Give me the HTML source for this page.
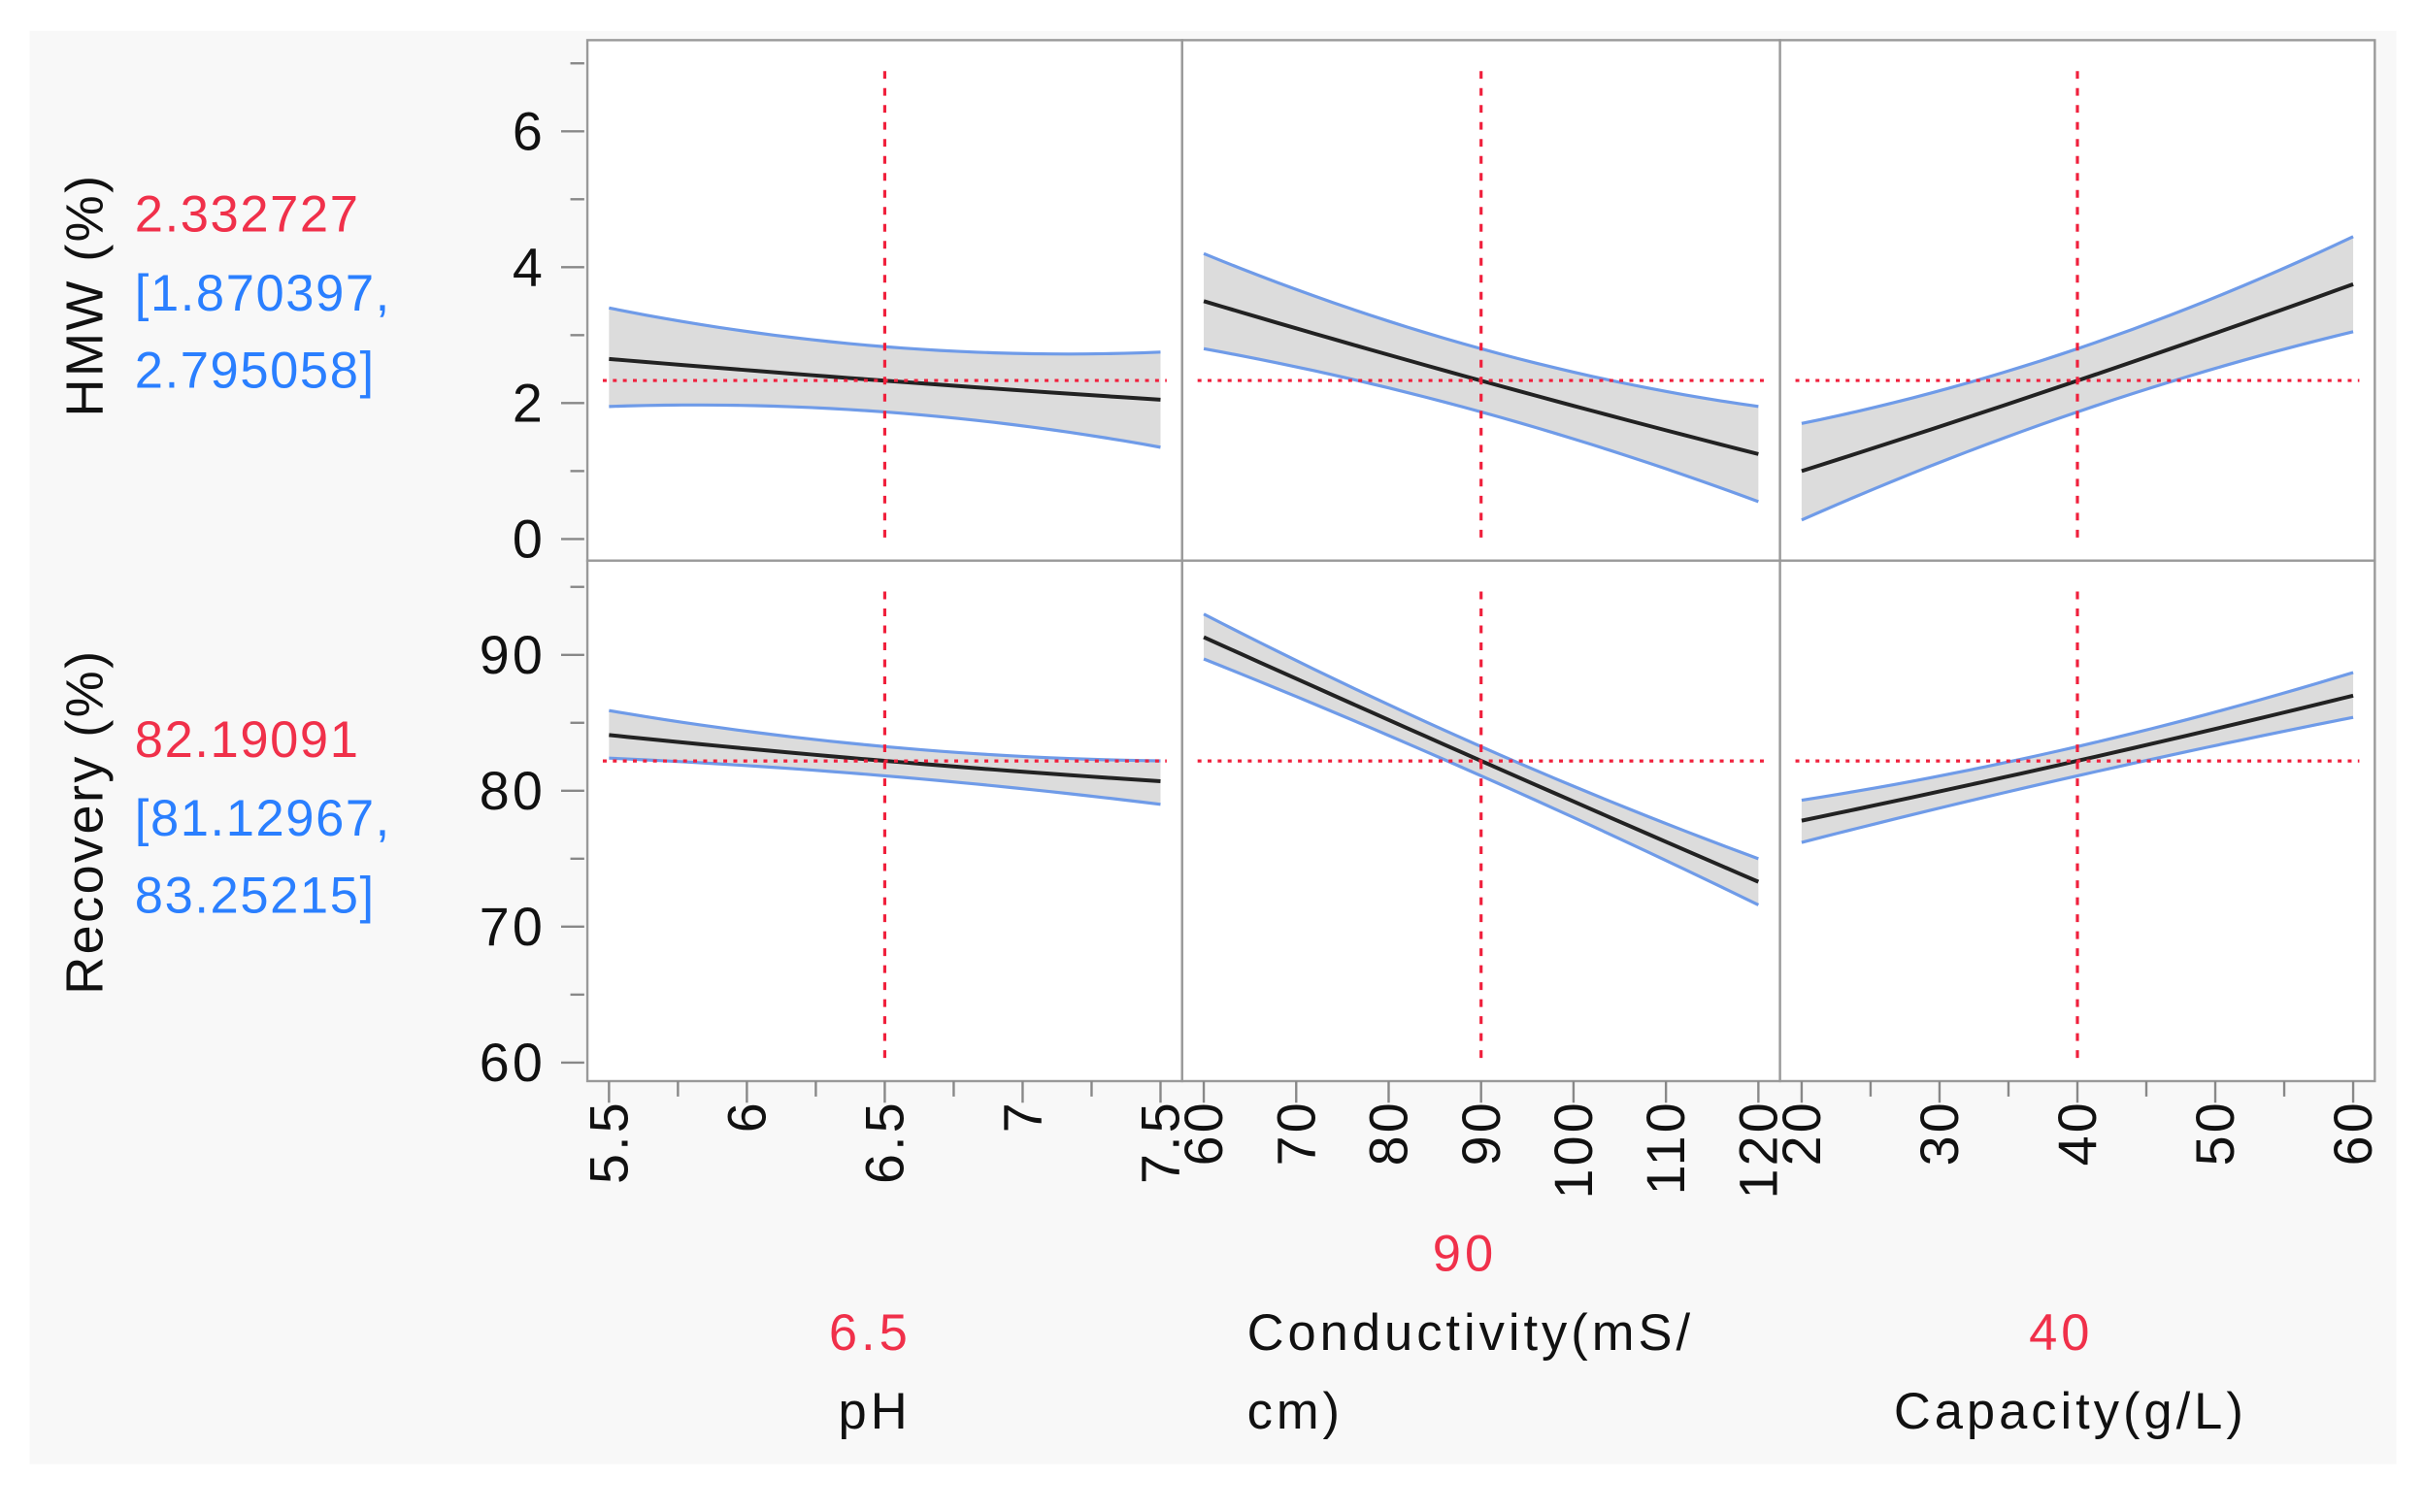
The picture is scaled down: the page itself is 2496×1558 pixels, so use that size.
<!DOCTYPE html>
<html><head><meta charset="utf-8"><style>
html,body{margin:0;padding:0;background:#fff;}
svg{display:block;}
text{font-family:"Liberation Sans",sans-serif;}
.lab{font-size:33px;letter-spacing:1px;}
.ax{font-size:33px;letter-spacing:2.5px;}
</style></head><body>
<svg id="chart" width="2496" height="1558" viewBox="0 0 1568 979" xmlns="http://www.w3.org/2000/svg">
<rect x="19" y="20" width="1532" height="928" fill="#f8f8f8"/>
<g id="layer"></g>
<text transform="translate(66,191) rotate(-90)" text-anchor="middle" font-size="34" letter-spacing="1.5" fill="#111">HMW (%)</text>
<text transform="translate(66,532) rotate(-90)" text-anchor="middle" font-size="34" letter-spacing="1.5" fill="#111">Recovery (%)</text>
<text class="lab" x="87" y="150" fill="#f0304a">2.332727</text>
<text class="lab" x="87" y="201" fill="#2a7fff">[1.870397,</text>
<text class="lab" x="87" y="251" fill="#2a7fff">2.795058]</text>
<text class="lab" x="87" y="490" fill="#f0304a">82.19091</text>
<text class="lab" x="87" y="541" fill="#2a7fff">[81.12967,</text>
<text class="lab" x="87" y="591" fill="#2a7fff">83.25215]</text>
<text class="ax" x="948" y="823" text-anchor="middle" fill="#f0304a">90</text>
<text class="ax" x="563" y="874" text-anchor="middle" fill="#f0304a">6.5</text>
<text class="ax" x="807" y="874" fill="#111">Conductivity(mS/</text>
<text class="ax" x="1334" y="874" text-anchor="middle" fill="#f0304a">40</text>
<text class="ax" x="566" y="925" text-anchor="middle" fill="#111">pH</text>
<text class="ax" x="807" y="925" fill="#111">cm)</text>
<text class="ax" x="1340" y="925" text-anchor="middle" fill="#111">Capacity(g/L)</text>
</svg>
<script>
// factor settings
const factorNames = ['ph','conductivity','capacity'];
const factorMin = [5.5, 60, 20];
const factorMax = [7.5, 120, 60];
const factorCurrent = [6.5, 90, 40];
const factorTicks = [[5.5,6,6.5,7,7.5],[60,70,80,90,100,110,120],[20,30,40,50,60]];
const factorTickLabels = [['5.5','6','6.5','7','7.5'],['60','70','80','90','100','110','120'],['20','30','40','50','60']];
const factorMinor = [[5.75,6.25,6.75,7.25],[],[25,35,45,55]];
// responses
const responseNames = ['hmw','recovery'];
const responseCurrent = [2.332727, 82.19091];
const responseTicks = [[0,2,4,6],[60,70,80,90]];
const responseMinor = [[1,3,5,7],[65,75,85,95]];
// curves: values at [min, current, max] for each factor
const hmwMean = [[2.65,2.33,2.05],[3.5,2.33,1.25],[1.0,2.33,3.75]];
const hmwUpper = [[3.4,2.83,2.75],[4.2,2.8,1.95],[1.7,2.8,4.45]];
const hmwLower = [[1.95,1.87,1.35],[2.8,1.87,0.55],[0.28,1.87,3.05]];
const recMean = [[84.1,82.2,80.7],[91.3,82.2,73.3],[77.8,82.2,87.0]];
const recUpper = [[85.9,83.25,82.2],[93.0,83.25,75.0],[79.3,83.25,88.7]];
const recLower = [[82.4,81.1,79.0],[89.7,81.1,71.6],[76.2,81.1,85.4]];

const NS='http://www.w3.org/2000/svg';
const layer=document.getElementById('layer');
function mk(tag,attrs,parent){const e=document.createElementNS(NS,tag);for(const k in attrs)e.setAttribute(k,attrs[k]);(parent||layer).appendChild(e);return e;}
const colX=[380,765,1152,1537];
const rowY=[26,363,700];
function xScale(f,v){const x0=colX[f]+14,x1=colX[f+1]-14;return x0+(v-factorMin[f])/(factorMax[f]-factorMin[f])*(x1-x0);}
const yDom=[[0,6],[60,90]], yPix=[[349,85],[688,424]];
function yScale(r,v){const d=yDom[r],p=yPix[r];return p[0]+(v-d[0])/(d[1]-d[0])*(p[1]-p[0]);}
function quad(f,arr,v){const xs=[factorMin[f],factorCurrent[f],factorMax[f]];let s=0;
 for(let i=0;i<3;i++){let t=arr[i];for(let j=0;j<3;j++)if(j!==i)t*=(v-xs[j])/(xs[i]-xs[j]);s+=t;}return s;}
function pts(r,f,arr){const a=[];for(let i=0;i<=30;i++){const v=factorMin[f]+(factorMax[f]-factorMin[f])*i/30;a.push([xScale(f,v),yScale(r,quad(f,arr,v))]);}return a;}
const means=[hmwMean,recMean],ups=[hmwUpper,recUpper],los=[hmwLower,recLower];

for(let r=0;r<2;r++){
 for(let f=0;f<3;f++){
  const pr=mk('rect',{x:colX[f],y:rowY[r],width:colX[f+1]-colX[f],height:rowY[r+1]-rowY[r],fill:'#fff',stroke:'#999','stroke-width':1.5});
  
  
  const u=pts(r,f,ups[r][f]),l=pts(r,f,los[r][f]),m=pts(r,f,means[r][f]);
  const band=mk('polygon',{points:u.concat(l.slice().reverse()).map(p=>p.join(',')).join(' '),fill:'#dcdcdc'});
  
  
  const ul=mk('polyline',{points:u.map(p=>p.join(',')).join(' '),fill:'none',stroke:'#6f9be8','stroke-width':2});
  
  
  const ll=mk('polyline',{points:l.map(p=>p.join(',')).join(' '),fill:'none',stroke:'#6f9be8','stroke-width':2});
  
  
  const ml=mk('polyline',{points:m.map(p=>p.join(',')).join(' '),fill:'none',stroke:'#222','stroke-width':2.5});
  
  
  const yc=yScale(r,responseCurrent[r]);
  const hl=mk('line',{x1:colX[f]+10,x2:colX[f+1]-10,y1:yc,y2:yc,stroke:'#f0203c','stroke-width':2,'stroke-dasharray':'2.5 4'});
  
  
  const xc=xScale(f,factorCurrent[f]);
  const vl=mk('line',{x1:xc,x2:xc,y1:rowY[r]+20,y2:rowY[r+1]-10,stroke:'#f0203c','stroke-width':2,'stroke-dasharray':'5 6'});
  
  
 }
 // y axis
 responseTicks[r].forEach(v=>{const y=yScale(r,v);
  const t=mk('line',{x1:363,x2:378,y1:y,y2:y,stroke:'#888','stroke-width':1.5});
  
  
  const tx=mk('text',{x:353,y:y+12,'text-anchor':'end','font-size':35,'letter-spacing':2,fill:'#111'});tx.textContent=String(v);
  
  });
 responseMinor[r].forEach(v=>{const y=yScale(r,v);
  const t=mk('line',{x1:369,x2:378,y1:y,y2:y,stroke:'#888','stroke-width':1.5});
  
  });
}
for(let f=0;f<3;f++){
 factorTicks[f].forEach((v,i)=>{const x=xScale(f,v);
  const t=mk('line',{x1:x,x2:x,y1:700,y2:714,stroke:'#888','stroke-width':1.5});
  
  
  const tx=mk('text',{transform:'translate('+(x+12)+',712) rotate(-90)','text-anchor':'end','font-size':35,'letter-spacing':2,fill:'#111'});
  tx.textContent=factorTickLabels[f][i];
  
  });
 factorMinor[f].forEach(v=>{const x=xScale(f,v);
  const t=mk('line',{x1:x,x2:x,y1:700,y2:710,stroke:'#888','stroke-width':1.5});
  
  });
}
</script>
</body></html>
